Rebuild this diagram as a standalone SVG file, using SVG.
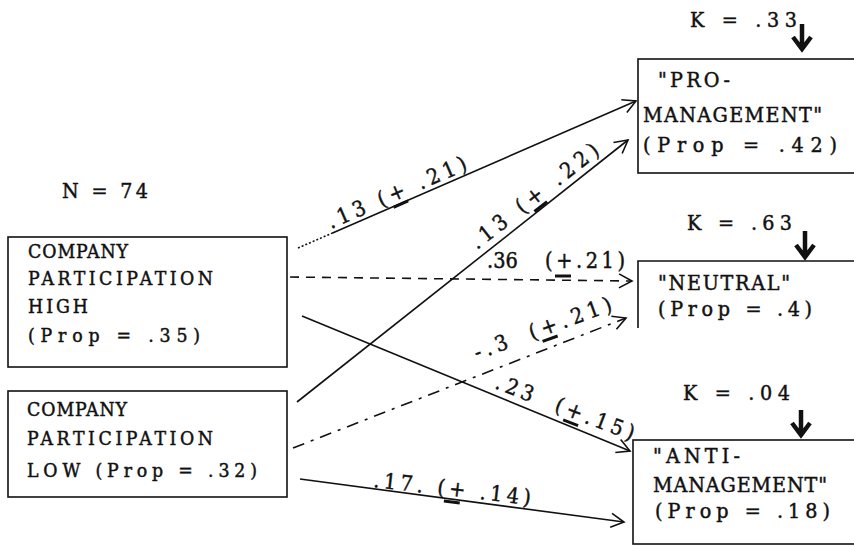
<svg xmlns="http://www.w3.org/2000/svg" width="854" height="546" viewBox="0 0 854 546">
<defs>
<style>
.box{fill:none;stroke:#111;stroke-width:1.6}
.t{font-family:"DejaVu Serif Condensed","DejaVu Serif","Liberation Serif",serif;font-stretch:condensed;fill:#111;stroke:#111;stroke-width:0.45}
.tl{font-size:19.3px}
.tr{font-size:21.3px}
.lbl{font-size:21.5px}
.ln{fill:none;stroke:#111;stroke-width:1.6}
.ul{stroke:#111;stroke-width:3}
.karr{fill:none;stroke:#111;stroke-width:4.5;stroke-linejoin:miter}
</style>
<marker id="arr" markerWidth="18" markerHeight="18" refX="15" refY="9" orient="auto" markerUnits="userSpaceOnUse">
<path d="M2,2 L15,9 L2,16" fill="none" stroke="#111" stroke-width="1.6"/>
</marker>
</defs>
<rect width="854" height="546" fill="#fff"/>

<g id="n-label">
<text class="t tr" x="62" y="198" textLength="86" lengthAdjust="spacing">N = 74</text>
</g>

<g id="node-high">
<rect class="box" x="8" y="237" width="279" height="130"/>
<text class="t tl" x="28" y="258" textLength="100" lengthAdjust="spacing">COMPANY</text>
<text class="t tl" x="28" y="285" textLength="185" lengthAdjust="spacing">PARTICIPATION</text>
<text class="t tl" x="28" y="313" textLength="60" lengthAdjust="spacing">HIGH</text>
<text class="t tl" x="28" y="342" textLength="172" lengthAdjust="spacing">(Prop = .35)</text>
</g>

<g id="node-low">
<rect class="box" x="8" y="391" width="279" height="106"/>
<text class="t tl" x="27" y="416" textLength="100" lengthAdjust="spacing">COMPANY</text>
<text class="t tl" x="27" y="445" textLength="186" lengthAdjust="spacing">PARTICIPATION</text>
<text class="t tl" x="27" y="477" textLength="230" lengthAdjust="spacing">LOW (Prop = .32)</text>
</g>

<g id="node-pro">
<text class="t tr" x="690" y="27" textLength="107" lengthAdjust="spacing">K = .33</text>
<path class="karr" d="M802,24 L802,48 M793,37 L802,49 L811,37"/>
<rect class="box" x="638" y="59" width="240" height="114"/>
<text class="t tr" x="658" y="87" textLength="72" lengthAdjust="spacing">"PRO-</text>
<text class="t tr" x="643" y="122" textLength="179" lengthAdjust="spacing">MANAGEMENT"</text>
<text class="t tr" x="643" y="152" textLength="194" lengthAdjust="spacing">(Prop = .42)</text>
</g>

<g id="node-neutral">
<text class="t tr" x="687" y="230" textLength="105" lengthAdjust="spacing">K = .63</text>
<path class="karr" d="M805,231 L805,256 M796,245 L805,257 L814,245"/>
<path class="box" d="M638,328 L638,261 L860,261"/>
<text class="t tr" x="658" y="290" textLength="132" lengthAdjust="spacing">"NEUTRAL"</text>
<text class="t tr" x="658" y="316" textLength="154" lengthAdjust="spacing">(Prop = .4)</text>
</g>

<g id="node-anti">
<text class="t tr" x="683" y="400" textLength="107" lengthAdjust="spacing">K = .04</text>
<path class="karr" d="M801,410 L801,434 M792,423 L801,435 L810,423"/>
<rect class="box" x="633" y="440" width="245" height="104"/>
<text class="t tr" x="653" y="463" textLength="87" lengthAdjust="spacing">"ANTI-</text>
<text class="t tr" x="653" y="492" textLength="174" lengthAdjust="spacing">MANAGEMENT"</text>
<text class="t tr" x="655" y="518" textLength="175" lengthAdjust="spacing">(Prop = .18)</text>
</g>

<g id="connectors">
<path class="ln" d="M298,248 L332,233.2" stroke-dasharray="2 2"/>
<path class="ln" d="M332,233.2 L636,101" marker-end="url(#arr)"/>
<path class="ln" d="M297,402 L628,140" marker-end="url(#arr)"/>
<path class="ln" d="M290,277 L632,281" stroke-dasharray="9 7" marker-end="url(#arr)"/>
<path class="ln" d="M293,448 L626,318" stroke-dasharray="12 7 3 7" marker-end="url(#arr)"/>
<path class="ln" d="M302,316 L630,451" marker-end="url(#arr)"/>
<path class="ln" d="M300,479 L624,522" marker-end="url(#arr)"/>

<g transform="translate(331,229) rotate(-23.5)">
<text class="t lbl" x="0" y="0" textLength="150" lengthAdjust="spacing">.13 (+ .21)</text>
<line class="ul" x1="66" y1="5" x2="82" y2="5"/>
</g>
<g transform="translate(477,250) rotate(-38)">
<text class="t lbl" x="0" y="0" textLength="157" lengthAdjust="spacing">.13 (+ .22)</text>
<line class="ul" x1="69" y1="5" x2="85" y2="5"/>
</g>
<g>
<text class="t lbl" x="487" y="268">.36 <tspan x="545" textLength="80" lengthAdjust="spacing">(+.21)</tspan></text>
<line class="ul" x1="555" y1="276" x2="571" y2="276"/>
</g>
<g transform="translate(477,360) rotate(-20)">
<text class="t lbl" x="0" y="0" word-spacing="8" textLength="145" lengthAdjust="spacing">-.3 (+.21)</text>
<line class="ul" x1="68" y1="5" x2="84" y2="5"/>
</g>
<g transform="translate(494,388) rotate(21)">
<text class="t lbl" x="0" y="0" word-spacing="10" textLength="147" lengthAdjust="spacing">.23 (+.15)</text>
<line class="ul" x1="76" y1="5" x2="92" y2="5"/>
</g>
<g transform="translate(373,487) rotate(6.5)">
<text class="t lbl" x="0" y="0" textLength="158" lengthAdjust="spacing">.17. (+ .14)</text>
<line class="ul" x1="72" y1="6" x2="88" y2="6"/>
</g>
</g>
</svg>
